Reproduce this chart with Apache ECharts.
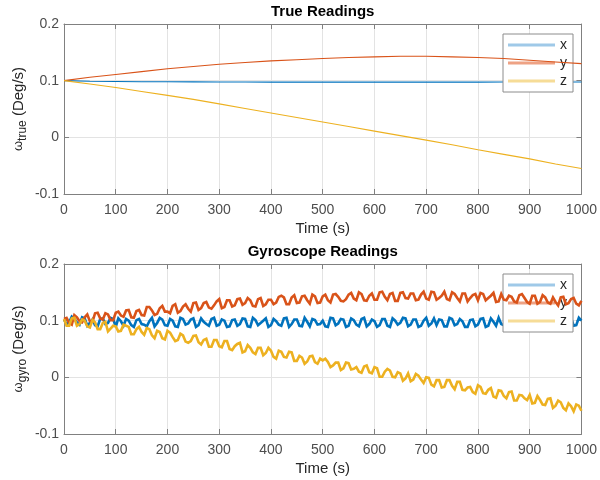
<!DOCTYPE html>
<html>
<head>
<meta charset="utf-8">
<script src="https://cdn.jsdelivr.net/npm/echarts@6/dist/echarts.min.js"></script>
<style>
html,body{margin:0;padding:0;background:#fff;}
#chart{width:600px;height:480px;}
</style>
</head>
<body>
<div id="chart"></div>
<script>
// ---- data ----
const seriesNames = ['x', 'y', 'z'];
const timeTrue = [0,50,100,150,200,250,300,350,400,450,500,550,600,650,700,750,800,850,900,950,1000];
const trueX = [0.100,0.0990,0.0985,0.0980,0.0980,0.0978,0.0977,0.0976,0.0975,0.0975,0.0975,0.0974,0.0974,0.0974,0.0975,0.0975,0.0975,0.0976,0.0976,0.0977,0.0977];
const trueY = [0.100,0.106,0.111,0.116,0.121,0.125,0.129,0.132,0.135,0.137,0.139,0.141,0.142,0.143,0.143,0.142,0.141,0.139,0.136,0.133,0.130];
const trueZ = [0.100,0.094,0.088,0.081,0.074,0.067,0.059,0.051,0.043,0.035,0.027,0.019,0.011,0.003,-0.005,-0.013,-0.022,-0.030,-0.038,-0.047,-0.055];

const timeGyro = [0,5,10,15,20,25,30,35,40,45,50,55,60,65,70,75,80,85,90,95,
  100,105,110,115,120,125,130,135,140,145,150,155,160,165,170,175,180,185,190,195,
  200,205,210,215,220,225,230,235,240,245,250,255,260,265,270,275,280,285,290,295,
  300,305,310,315,320,325,330,335,340,345,350,355,360,365,370,375,380,385,390,395,
  400,405,410,415,420,425,430,435,440,445,450,455,460,465,470,475,480,485,490,495,
  500,505,510,515,520,525,530,535,540,545,550,555,560,565,570,575,580,585,590,595,
  600,605,610,615,620,625,630,635,640,645,650,655,660,665,670,675,680,685,690,695,
  700,705,710,715,720,725,730,735,740,745,750,755,760,765,770,775,780,785,790,795,
  800,805,810,815,820,825,830,835,840,845,850,855,860,865,870,875,880,885,890,895,
  900,905,910,915,920,925,930,935,940,945,950,955,960,965,970,975,980,985,990,995,1000];
const gyroX = [
  0.102,0.094,0.097,0.107,0.103,0.097,0.093,0.106,0.104,0.091,0.096,0.102,0.092,0.090,0.103,0.104,0.094,0.096,0.105,0.103,
  0.089,0.104,0.099,0.091,0.103,0.100,0.092,0.089,0.101,0.103,0.094,0.093,0.090,0.099,0.105,0.090,0.096,0.105,0.102,0.092,
  0.091,0.103,0.100,0.090,0.089,0.105,0.103,0.093,0.095,0.102,0.104,0.089,0.092,0.104,0.098,0.094,0.091,0.103,0.105,0.091,
  0.093,0.102,0.100,0.089,0.090,0.101,0.102,0.091,0.094,0.104,0.103,0.090,0.089,0.105,0.101,0.092,0.096,0.100,0.104,0.089,
  0.092,0.103,0.099,0.093,0.091,0.104,0.105,0.089,0.094,0.102,0.102,0.091,0.090,0.105,0.098,0.090,0.103,0.101,0.093,0.094,
  0.100,0.090,0.089,0.105,0.104,0.092,0.095,0.103,0.102,0.089,0.091,0.104,0.101,0.093,0.090,0.103,0.105,0.090,0.094,0.102,
  0.099,0.089,0.092,0.103,0.103,0.091,0.089,0.104,0.100,0.093,0.096,0.105,0.104,0.090,0.093,0.102,0.102,0.089,0.091,0.100,
  0.105,0.091,0.095,0.104,0.092,0.102,0.101,0.090,0.090,0.105,0.103,0.092,0.094,0.103,0.099,0.089,0.089,0.101,0.102,0.090,
  0.093,0.103,0.104,0.089,0.091,0.104,0.098,0.091,0.105,0.094,0.092,0.105,0.100,0.091,0.090,0.102,0.103,0.090,0.095,0.103,
  0.101,0.092,0.089,0.105,0.102,0.090,0.094,0.103,0.104,0.089,0.091,0.104,0.099,0.093,0.093,0.102,0.105,0.091,0.092,0.105,0.100];
const gyroY = [
  0.103,0.105,0.096,0.093,0.110,0.106,0.099,0.097,0.106,0.111,0.099,0.098,0.113,0.114,0.104,0.102,0.113,0.111,0.101,0.101,
  0.114,0.116,0.109,0.107,0.118,0.119,0.106,0.105,0.117,0.119,0.110,0.109,0.124,0.124,0.118,0.110,0.112,0.122,0.126,0.116,
  0.116,0.113,0.126,0.129,0.114,0.117,0.125,0.129,0.121,0.116,0.131,0.132,0.119,0.122,0.131,0.133,0.123,0.121,0.127,0.134,
  0.138,0.122,0.124,0.136,0.136,0.125,0.127,0.138,0.139,0.128,0.131,0.140,0.136,0.126,0.125,0.138,0.140,0.126,0.129,0.137,
  0.137,0.129,0.132,0.142,0.144,0.141,0.129,0.129,0.141,0.145,0.131,0.132,0.143,0.144,0.136,0.130,0.146,0.143,0.131,0.132,
  0.143,0.146,0.136,0.132,0.146,0.147,0.142,0.135,0.134,0.138,0.146,0.149,0.139,0.136,0.150,0.147,0.136,0.135,0.144,0.148,
  0.137,0.137,0.150,0.151,0.142,0.136,0.147,0.149,0.135,0.135,0.149,0.150,0.140,0.139,0.148,0.148,0.136,0.137,0.146,0.151,
  0.139,0.137,0.151,0.150,0.137,0.140,0.144,0.151,0.138,0.136,0.150,0.147,0.140,0.134,0.148,0.148,0.134,0.140,0.145,0.147,
  0.136,0.149,0.147,0.136,0.140,0.144,0.149,0.133,0.134,0.147,0.137,0.136,0.144,0.142,0.134,0.132,0.145,0.147,0.140,0.133,
  0.130,0.144,0.144,0.130,0.133,0.145,0.141,0.132,0.130,0.141,0.133,0.127,0.141,0.142,0.129,0.131,0.138,0.140,0.130,0.127,0.135];
const gyroZ = [
  0.103,0.091,0.091,0.104,0.105,0.091,0.094,0.102,0.100,0.090,0.088,0.101,0.097,0.085,0.085,0.096,0.098,0.081,0.086,0.091,
  0.090,0.081,0.082,0.093,0.091,0.089,0.076,0.076,0.085,0.089,0.080,0.075,0.087,0.085,0.074,0.069,0.082,0.080,0.069,0.067,
  0.082,0.079,0.071,0.064,0.066,0.077,0.074,0.063,0.061,0.064,0.073,0.074,0.062,0.058,0.066,0.068,0.054,0.054,0.066,0.066,
  0.055,0.053,0.064,0.064,0.050,0.048,0.055,0.059,0.061,0.044,0.046,0.057,0.052,0.044,0.041,0.052,0.052,0.039,0.043,0.052,
  0.047,0.036,0.033,0.047,0.045,0.036,0.035,0.045,0.044,0.029,0.029,0.038,0.035,0.024,0.028,0.037,0.038,0.027,0.024,0.033,
  0.030,0.033,0.027,0.018,0.021,0.026,0.026,0.013,0.016,0.026,0.025,0.014,0.015,0.018,0.010,0.008,0.019,0.021,0.009,0.007,
  0.018,0.016,0.001,0.001,0.010,0.015,0.012,0.001,0.000,0.009,0.007,-0.006,-0.002,0.007,-0.007,-0.004,0.006,0.003,-0.004,-0.010,
  0.000,-0.001,-0.013,-0.016,-0.005,-0.005,-0.018,-0.017,-0.005,-0.005,-0.015,-0.021,-0.008,-0.008,-0.022,-0.023,-0.018,-0.017,-0.026,-0.029,
  -0.014,-0.017,-0.028,-0.029,-0.022,-0.019,-0.034,-0.036,-0.023,-0.024,-0.033,-0.037,-0.026,-0.025,-0.041,-0.041,-0.031,-0.032,-0.037,-0.040,
  -0.031,-0.046,-0.045,-0.033,-0.040,-0.048,-0.049,-0.038,-0.037,-0.054,-0.050,-0.041,-0.044,-0.054,-0.058,-0.046,-0.051,-0.060,-0.048,-0.050,-0.059];

// ---- styles ----
const colors = ['#0072BD', '#D95319', '#EDB120'];
const legendColors = ['#9fc9e8', '#eea284', '#f6dc97'];
const axisGray = '#808080';
const textGray = '#4d4d4d';
const FONT = '"Liberation Sans", Arial, Helvetica, sans-serif';

function yFmt(v) {
  const r = Math.round(v * 10) / 10;
  return r === 0 ? '0' : String(r);
}

function xAxes(gi, title) {
  return [
    {
      type: 'value', gridIndex: gi, min: 0, max: 1000, interval: 100, position: 'bottom',
      name: 'Time (s)', nameLocation: 'middle', nameGap: 27, nameMoveOverlap: false,
      nameTextStyle: { fontFamily: FONT, fontSize: 15, color: '#262626' },
      axisLine: { show: true, onZero: false, lineStyle: { color: axisGray } },
      axisTick: { show: true, inside: true, length: 5, lineStyle: { color: axisGray } },
      axisLabel: { fontFamily: FONT, fontSize: 14, color: textGray, margin: 9, formatter: v => String(v) },
      splitLine: { show: true, lineStyle: { color: '#e3e3e3' } }
    },
    {
      type: 'value', gridIndex: gi, min: 0, max: 1000, interval: 100, position: 'top',
      name: title, nameLocation: 'middle', nameGap: 5, nameMoveOverlap: false,
      nameTextStyle: { fontFamily: FONT, fontSize: 15, fontWeight: 'bold', color: '#000', verticalAlign: 'bottom' },
      axisLine: { show: true, onZero: false, lineStyle: { color: axisGray } },
      axisTick: { show: true, inside: true, length: 5, lineStyle: { color: axisGray } },
      axisLabel: { show: false },
      splitLine: { show: false }
    }
  ];
}

function yAxes(gi, sub) {
  return [
    {
      type: 'value', gridIndex: gi, min: -0.1, max: 0.2, interval: 0.1, position: 'left',
      name: '{w|ω}{s|' + sub + '} (Deg/s)', nameLocation: 'middle', nameGap: 35, nameRotate: 90,
      nameMoveOverlap: false,
      nameTextStyle: {
        fontFamily: FONT, fontSize: 15, color: '#262626',
        rich: {
          w: { fontFamily: FONT, fontSize: 13, color: '#262626' },
          s: { fontFamily: FONT, fontSize: 12, color: '#262626', padding: [9, 0, 0, 0] }
        }
      },
      axisLine: { show: true, onZero: false, lineStyle: { color: axisGray } },
      axisTick: { show: true, inside: true, length: 5, lineStyle: { color: axisGray } },
      axisLabel: { fontFamily: FONT, fontSize: 14, color: textGray, margin: 5, formatter: yFmt },
      splitLine: { show: true, lineStyle: { color: '#e3e3e3' } }
    },
    {
      type: 'value', gridIndex: gi, min: -0.1, max: 0.2, interval: 0.1, position: 'right',
      axisLine: { show: true, onZero: false, lineStyle: { color: axisGray } },
      axisTick: { show: true, inside: true, length: 5, lineStyle: { color: axisGray } },
      axisLabel: { show: false },
      splitLine: { show: false }
    }
  ];
}

function legendAt(top) {
  return {
    left: 503, top: top, orient: 'vertical',
    backgroundColor: '#fff', borderColor: '#8c8c8c', borderWidth: 1,
    padding: [4, 6, 4, 5], itemGap: 4, itemWidth: 47, itemHeight: 3, icon: 'rect',
    selectedMode: false,
    textStyle: { fontFamily: FONT, fontSize: 14, color: '#262626' },
    data: seriesNames.map((n, i) => ({ name: n, itemStyle: { color: legendColors[i] } }))
  };
}

const trueData = [trueX, trueY, trueZ];
const gyroData = [gyroX, gyroY, gyroZ];

const series = [];
seriesNames.forEach((n, i) => {
  series.push({
    name: n, type: 'line', xAxisIndex: 0, yAxisIndex: 0, symbol: 'none', smooth: false,
    lineStyle: { color: colors[i], width: 1.1 }, itemStyle: { color: colors[i] },
    data: timeTrue.map((t, k) => [t, trueData[i][k]]), z: 3 + i
  });
});
seriesNames.forEach((n, i) => {
  series.push({
    name: n, type: 'line', xAxisIndex: 2, yAxisIndex: 2, symbol: 'none', smooth: false,
    sampling: null,
    lineStyle: { color: colors[i], width: 2.6, join: 'miter', miterLimit: 3 }, itemStyle: { color: colors[i] },
    data: timeGyro.map((t, k) => [t, gyroData[i][k]]), z: 3 + i
  });
});

const chart = echarts.init(document.getElementById('chart'), null, { renderer: 'canvas' });
chart.setOption({
  animation: false,
  backgroundColor: '#fff',
  grid: [
    { left: 64, right: 15, top: 24, height: 170, containLabel: false },
    { left: 64, right: 15, top: 264, height: 170, containLabel: false }
  ],
  xAxis: [...xAxes(0, 'True Readings'), ...xAxes(1, 'Gyroscope Readings')],
  yAxis: [...yAxes(0, 'true'), ...yAxes(1, 'gyro')],
  legend: [legendAt(34), legendAt(274)],
  series: series
});
</script>
</body>
</html>
